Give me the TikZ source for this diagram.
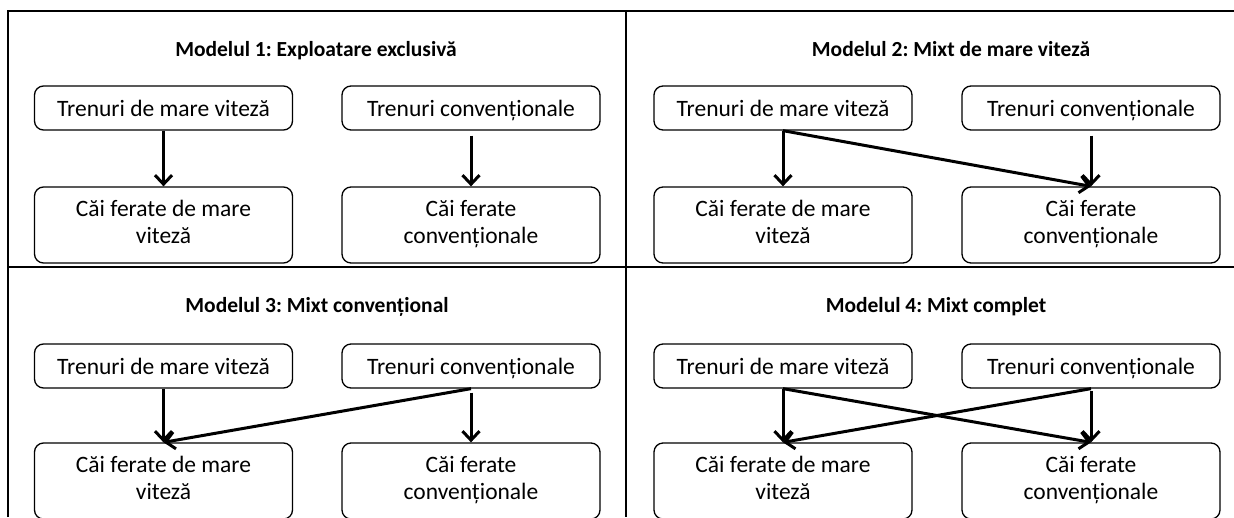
\documentclass[tikz,border=0pt]{standalone}
\usepackage{fontspec}
\setmainfont{Carlito}
\usetikzlibrary{arrows.meta}
\frenchspacing
\newcommand\lstrut{\vrule width 0pt height 18pt depth 8pt\relax}
\begin{document}
\begin{tikzpicture}[x=1pt,y=-1pt,
  box/.style={draw, line width=1.3pt, rounded corners=9pt, minimum width=258pt, inner sep=0pt, align=center, font=\fontsize{23.5}{27}\selectfont},
  topbox/.style={box, minimum height=44pt, text height=17pt, text depth=1pt},
  botbox/.style={box, minimum height=76pt},
  ttl/.style={font=\fontsize{21.5}{25}\selectfont\bfseries, inner sep=0pt, anchor=base},
  arr/.style={line width=3pt, -{Straight Barb[length=9pt,width=17pt]}},
  frame/.style={line width=1.4pt}]
\useasboundingbox (0,0) rectangle (1234,517);
% frame
\coordinate (tl) at (8,11);
\coordinate (tr) at (1234,11);
\coordinate (bl) at (8,517);
\coordinate (vt) at (626,11);
\coordinate (vb) at (626,517);
\coordinate (hl) at (8,267);
\coordinate (hr) at (1234,267);
\draw[frame] (bl) -- (tl) -- (tr);
\draw[frame] (vt) -- (vb);
\draw[frame] (hl) -- (hr);
% titles
\node[ttl] (t1) at (316,56) {Modelul 1: Exploatare exclusivă};
\node[ttl] (t2) at (951,56) {Modelul 2: Mixt de mare viteză};
\node[ttl] (t3) at (317,312) {Modelul 3: Mixt convențional};
\node[ttl] (t4) at (936,312) {Modelul 4: Mixt complet};
% Q1
\node[topbox] (a1) at (163.5,108) {Trenuri de mare viteză};
\node[topbox] (b1) at (471,108) {Trenuri convenționale};
\node[botbox] (c1) at (163.5,225) {\lstrut Căi ferate de mare\\\lstrut viteză};
\node[botbox] (d1) at (471,225) {\lstrut Căi ferate\\\lstrut convenționale};
% Q2
\node[topbox] (a2) at (783,108) {Trenuri de mare viteză};
\node[topbox] (b2) at (1091,108) {Trenuri convenționale};
\node[botbox] (c2) at (783,225) {\lstrut Căi ferate de mare\\\lstrut viteză};
\node[botbox] (d2) at (1091,225) {\lstrut Căi ferate\\\lstrut convenționale};
% Q3
\node[topbox] (a3) at (163.5,366) {Trenuri de mare viteză};
\node[topbox] (b3) at (471,366) {Trenuri convenționale};
\node[botbox] (c3) at (163.5,481) {\lstrut Căi ferate de mare\\\lstrut viteză};
\node[botbox] (d3) at (471,481) {\lstrut Căi ferate\\\lstrut convenționale};
% Q4
\node[topbox] (a4) at (783,366) {Trenuri de mare viteză};
\node[topbox] (b4) at (1091,366) {Trenuri convenționale};
\node[botbox] (c4) at (783,481) {\lstrut Căi ferate de mare\\\lstrut viteză};
\node[botbox] (d4) at (1091,481) {\lstrut Căi ferate\\\lstrut convenționale};
% arrows Q1
\draw[arr] (a1.south) -- (c1.north);
\draw[arr, shorten <=5pt] (b1.south) -- (d1.north);
% arrows Q2
\draw[arr] (a2.south) -- (c2.north);
\draw[arr, shorten <=5pt] (b2.south) -- (d2.north);
\draw[arr] (a2.south) -- (d2.north);
% arrows Q3
\draw[arr] (a3.south) -- (c3.north);
\draw[arr, shorten <=4pt] (b3.south) -- (d3.north);
\draw[arr] (b3.south) -- (c3.north);
% arrows Q4
\draw[arr] (a4.south) -- (c4.north);
\draw[arr, shorten <=2pt] (b4.south) -- (d4.north);
\draw[arr] (a4.south) -- (d4.north);
\draw[arr] (b4.south) -- (c4.north);
\end{tikzpicture}
\end{document}
